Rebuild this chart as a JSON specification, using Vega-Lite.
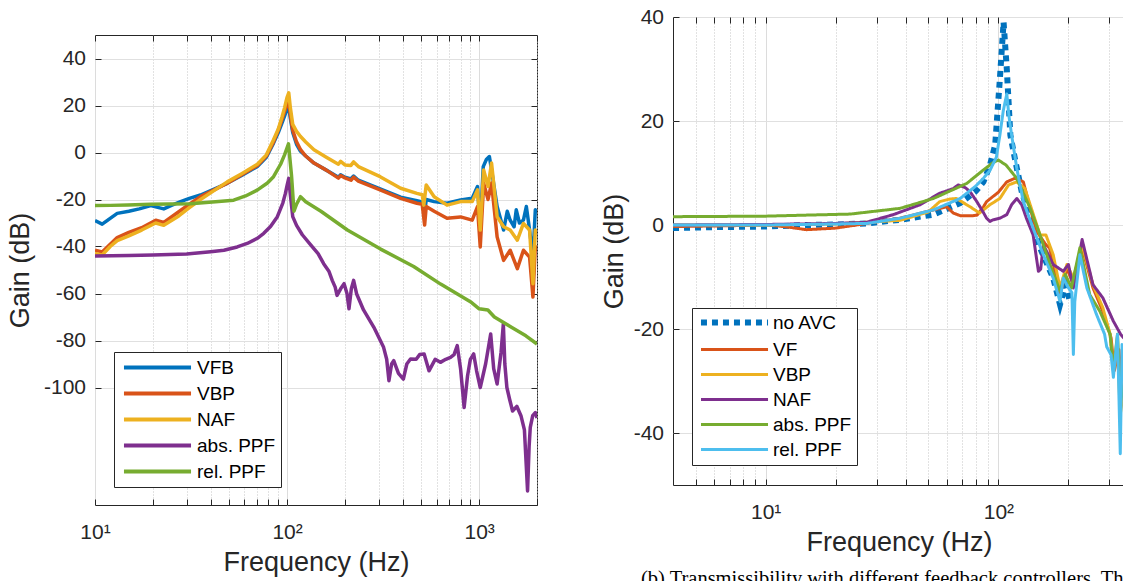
{
  "$schema": "https://vega.github.io/schema/vega-lite/v6.json",
  "padding": {"left": 5, "top": 5, "right": 5, "bottom": 5},
  "background": "white",
  "spacing": 61,
  "resolve": {
    "scale": {"color": "independent", "strokeDash": "independent"},
    "legend": {"color": "independent", "strokeDash": "independent"}
  },
  "config": {
    "font": "Liberation Sans",
    "view": {"stroke": "#262626", "strokeWidth": 1},
    "axis": {
      "domain": false,
      "labelFontSize": 21,
      "titleFontSize": 27,
      "titleFontWeight": "normal",
      "labelColor": "#262626",
      "titleColor": "#262626",
      "tickColor": "#262626",
      "tickSize": -6,
      "gridColor": "#e0e0e0",
      "labelFont": "Liberation Sans",
      "titleFont": "Liberation Sans",
      "labelOverlap": false,
      "labelFlush": false
    },
    "axisX": {"labelPadding": 22, "titlePadding": 7},
    "axisY": {"labelPadding": 15.5, "titlePadding": 9},
    "legend": {
      "labelFont": "Liberation Sans",
      "labelFontSize": 19,
      "labelColor": "#000000",
      "symbolType": "M-4,0H4",
      "symbolSize": 281,
      "symbolOffset": 28,
      "labelOffset": 29,
      "padding": 5,
      "rowPadding": 5,
      "strokeColor": "#262626",
      "fillColor": "#ffffff"
    }
  },
  "datasets": {
    "L": [
      {"s":"VFB","f":10,"g":-29},{"s":"VFB","f":10.9,"g":-30.5},{"s":"VFB","f":12,"g":-28},{"s":"VFB","f":13.05,"g":-25.9},{"s":"VFB","f":15,"g":-25},{"s":"VFB","f":17,"g":-24},{"s":"VFB","f":19.5,"g":-22.6},{"s":"VFB","f":22.8,"g":-24},{"s":"VFB","f":25,"g":-22.5},{"s":"VFB","f":27.9,"g":-20.9},{"s":"VFB","f":31,"g":-19.5},{"s":"VFB","f":35.4,"g":-18.1},{"s":"VFB","f":42,"g":-15.5},{"s":"VFB","f":48.8,"g":-13.1},{"s":"VFB","f":58,"g":-9.8},{"s":"VFB","f":70,"g":-6},{"s":"VFB","f":78,"g":-2},{"s":"VFB","f":85,"g":4},{"s":"VFB","f":90,"g":8.5},{"s":"VFB","f":94,"g":12.5},{"s":"VFB","f":97,"g":15.5},{"s":"VFB","f":100,"g":18.5},{"s":"VFB","f":102,"g":19.5},{"s":"VFB","f":104,"g":14.5},{"s":"VFB","f":107,"g":8.5},{"s":"VFB","f":112,"g":3.5},{"s":"VFB","f":117.5,"g":0.5},{"s":"VFB","f":125,"g":-1.5},{"s":"VFB","f":138,"g":-4.5},{"s":"VFB","f":160,"g":-7.5},{"s":"VFB","f":185,"g":-10.5},{"s":"VFB","f":190,"g":-9.5},{"s":"VFB","f":200,"g":-10.5},{"s":"VFB","f":215,"g":-11.2},{"s":"VFB","f":222,"g":-10},{"s":"VFB","f":235,"g":-11.8},{"s":"VFB","f":305,"g":-15.5},{"s":"VFB","f":390,"g":-19},{"s":"VFB","f":474,"g":-20.5},{"s":"VFB","f":505,"g":-21},{"s":"VFB","f":520,"g":-25.9},{"s":"VFB","f":530,"g":-20},{"s":"VFB","f":583,"g":-20.9},{"s":"VFB","f":680,"g":-21.6},{"s":"VFB","f":800,"g":-20.2},{"s":"VFB","f":920,"g":-19.5},{"s":"VFB","f":980,"g":-14.5},{"s":"VFB","f":1013,"g":-32},{"s":"VFB","f":1050,"g":-6},{"s":"VFB","f":1090,"g":-3},{"s":"VFB","f":1130,"g":-1.7},{"s":"VFB","f":1160,"g":-7.4},{"s":"VFB","f":1240,"g":-23},{"s":"VFB","f":1340,"g":-33},{"s":"VFB","f":1400,"g":-25},{"s":"VFB","f":1450,"g":-28.8},{"s":"VFB","f":1520,"g":-31.6},{"s":"VFB","f":1560,"g":-24.4},{"s":"VFB","f":1620,"g":-30},{"s":"VFB","f":1700,"g":-28.8},{"s":"VFB","f":1760,"g":-23},{"s":"VFB","f":1830,"g":-33},{"s":"VFB","f":1905,"g":-44.5},{"s":"VFB","f":1960,"g":-24.4},{"s":"VFB","f":2000,"g":-26},
      {"s":"VBP","f":10,"g":-41.6},{"s":"VBP","f":10.9,"g":-42.3},{"s":"VBP","f":12,"g":-39},{"s":"VBP","f":13.05,"g":-36.2},{"s":"VBP","f":15,"g":-34},{"s":"VBP","f":17.5,"g":-32},{"s":"VBP","f":20.7,"g":-28.8},{"s":"VBP","f":22.8,"g":-29.8},{"s":"VBP","f":27.3,"g":-25.2},{"s":"VBP","f":31,"g":-22},{"s":"VBP","f":35.4,"g":-18.8},{"s":"VBP","f":42,"g":-15.8},{"s":"VBP","f":48.8,"g":-13.1},{"s":"VBP","f":58,"g":-9.5},{"s":"VBP","f":70,"g":-5.5},{"s":"VBP","f":78,"g":-1.5},{"s":"VBP","f":85,"g":4.5},{"s":"VBP","f":90,"g":9.5},{"s":"VBP","f":94,"g":14},{"s":"VBP","f":97,"g":17.5},{"s":"VBP","f":100,"g":20.5},{"s":"VBP","f":102,"g":21.8},{"s":"VBP","f":104,"g":16},{"s":"VBP","f":107,"g":9.5},{"s":"VBP","f":112,"g":4.5},{"s":"VBP","f":117.5,"g":1.2},{"s":"VBP","f":125,"g":-1.5},{"s":"VBP","f":138,"g":-4.5},{"s":"VBP","f":160,"g":-7.5},{"s":"VBP","f":185,"g":-10.9},{"s":"VBP","f":190,"g":-9.8},{"s":"VBP","f":200,"g":-10.8},{"s":"VBP","f":215,"g":-11.8},{"s":"VBP","f":222,"g":-10.5},{"s":"VBP","f":235,"g":-12.2},{"s":"VBP","f":305,"g":-15.9},{"s":"VBP","f":390,"g":-19.5},{"s":"VBP","f":474,"g":-21.6},{"s":"VBP","f":505,"g":-22},{"s":"VBP","f":520,"g":-30.9},{"s":"VBP","f":530,"g":-23},{"s":"VBP","f":583,"g":-25},{"s":"VBP","f":680,"g":-28},{"s":"VBP","f":800,"g":-27.4},{"s":"VBP","f":920,"g":-28.8},{"s":"VBP","f":980,"g":-23},{"s":"VBP","f":1013,"g":-40.2},{"s":"VBP","f":1055,"g":-13.1},{"s":"VBP","f":1112,"g":-20},{"s":"VBP","f":1160,"g":-13},{"s":"VBP","f":1240,"g":-35.9},{"s":"VBP","f":1340,"g":-45.9},{"s":"VBP","f":1450,"g":-41.6},{"s":"VBP","f":1580,"g":-49.4},{"s":"VBP","f":1700,"g":-41.6},{"s":"VBP","f":1830,"g":-44.5},{"s":"VBP","f":1905,"g":-61.5},{"s":"VBP","f":1960,"g":-40},{"s":"VBP","f":2000,"g":-42},
      {"s":"NAF","f":10,"g":-43},{"s":"NAF","f":10.9,"g":-43.6},{"s":"NAF","f":12,"g":-40},{"s":"NAF","f":13.05,"g":-37.5},{"s":"NAF","f":15,"g":-35.5},{"s":"NAF","f":17.5,"g":-33},{"s":"NAF","f":20.7,"g":-30},{"s":"NAF","f":22.8,"g":-31},{"s":"NAF","f":27.3,"g":-27},{"s":"NAF","f":31,"g":-23.5},{"s":"NAF","f":35.4,"g":-20},{"s":"NAF","f":42,"g":-16},{"s":"NAF","f":48.8,"g":-12.5},{"s":"NAF","f":58,"g":-9},{"s":"NAF","f":70,"g":-5},{"s":"NAF","f":78,"g":-1},{"s":"NAF","f":85,"g":5.4},{"s":"NAF","f":90,"g":10},{"s":"NAF","f":94,"g":15},{"s":"NAF","f":97,"g":19},{"s":"NAF","f":100,"g":23.5},{"s":"NAF","f":102,"g":25.4},{"s":"NAF","f":104,"g":19},{"s":"NAF","f":107,"g":12},{"s":"NAF","f":112,"g":9},{"s":"NAF","f":117.5,"g":6.8},{"s":"NAF","f":125,"g":4.5},{"s":"NAF","f":138,"g":1.2},{"s":"NAF","f":160,"g":-2},{"s":"NAF","f":185,"g":-5},{"s":"NAF","f":190,"g":-3.8},{"s":"NAF","f":200,"g":-5.3},{"s":"NAF","f":215,"g":-5.5},{"s":"NAF","f":222,"g":-4},{"s":"NAF","f":235,"g":-6},{"s":"NAF","f":305,"g":-10.3},{"s":"NAF","f":390,"g":-15.2},{"s":"NAF","f":474,"g":-17.4},{"s":"NAF","f":505,"g":-18},{"s":"NAF","f":515,"g":-22.4},{"s":"NAF","f":530,"g":-13.8},{"s":"NAF","f":583,"g":-18.8},{"s":"NAF","f":680,"g":-22.4},{"s":"NAF","f":800,"g":-20.9},{"s":"NAF","f":920,"g":-20.9},{"s":"NAF","f":980,"g":-15.9},{"s":"NAF","f":1013,"g":-33},{"s":"NAF","f":1055,"g":-7.4},{"s":"NAF","f":1112,"g":-14.5},{"s":"NAF","f":1160,"g":-4.5},{"s":"NAF","f":1240,"g":-27.3},{"s":"NAF","f":1340,"g":-31.6},{"s":"NAF","f":1450,"g":-33},{"s":"NAF","f":1580,"g":-37.3},{"s":"NAF","f":1700,"g":-30.2},{"s":"NAF","f":1830,"g":-33},{"s":"NAF","f":1905,"g":-55.8},{"s":"NAF","f":1960,"g":-33},{"s":"NAF","f":2000,"g":-35},
      {"s":"abs. PPF","f":10,"g":-44},{"s":"abs. PPF","f":15,"g":-43.8},{"s":"abs. PPF","f":20,"g":-43.6},{"s":"abs. PPF","f":30,"g":-43.2},{"s":"abs. PPF","f":40,"g":-42.2},{"s":"abs. PPF","f":46.9,"g":-41.6},{"s":"abs. PPF","f":55,"g":-40.2},{"s":"abs. PPF","f":62,"g":-38.7},{"s":"abs. PPF","f":70,"g":-36.5},{"s":"abs. PPF","f":75.6,"g":-34.4},{"s":"abs. PPF","f":82,"g":-31.5},{"s":"abs. PPF","f":89,"g":-27.3},{"s":"abs. PPF","f":95,"g":-21.5},{"s":"abs. PPF","f":98,"g":-17.4},{"s":"abs. PPF","f":100,"g":-14},{"s":"abs. PPF","f":102,"g":-11},{"s":"abs. PPF","f":104,"g":-18},{"s":"abs. PPF","f":107,"g":-27.3},{"s":"abs. PPF","f":112,"g":-31},{"s":"abs. PPF","f":120,"g":-35},{"s":"abs. PPF","f":133,"g":-39.4},{"s":"abs. PPF","f":145,"g":-43},{"s":"abs. PPF","f":155,"g":-47.3},{"s":"abs. PPF","f":165,"g":-50.5},{"s":"abs. PPF","f":172,"g":-54.5},{"s":"abs. PPF","f":178,"g":-57.3},{"s":"abs. PPF","f":182,"g":-60.8},{"s":"abs. PPF","f":190,"g":-58},{"s":"abs. PPF","f":198,"g":-55.8},{"s":"abs. PPF","f":205,"g":-60},{"s":"abs. PPF","f":210,"g":-66.5},{"s":"abs. PPF","f":216,"g":-58},{"s":"abs. PPF","f":222,"g":-54.4},{"s":"abs. PPF","f":230,"g":-60.1},{"s":"abs. PPF","f":250,"g":-67},{"s":"abs. PPF","f":283,"g":-74.4},{"s":"abs. PPF","f":318,"g":-82.9},{"s":"abs. PPF","f":330,"g":-88},{"s":"abs. PPF","f":339,"g":-97.1},{"s":"abs. PPF","f":350,"g":-90},{"s":"abs. PPF","f":359,"g":-88.6},{"s":"abs. PPF","f":380,"g":-94},{"s":"abs. PPF","f":403,"g":-96.4},{"s":"abs. PPF","f":420,"g":-90},{"s":"abs. PPF","f":439,"g":-87.9},{"s":"abs. PPF","f":470,"g":-88},{"s":"abs. PPF","f":490,"g":-86},{"s":"abs. PPF","f":517,"g":-85.7},{"s":"abs. PPF","f":548,"g":-92.9},{"s":"abs. PPF","f":590,"g":-88},{"s":"abs. PPF","f":628,"g":-89.3},{"s":"abs. PPF","f":670,"g":-88},{"s":"abs. PPF","f":709,"g":-87.2},{"s":"abs. PPF","f":740,"g":-86},{"s":"abs. PPF","f":769,"g":-82.2},{"s":"abs. PPF","f":800,"g":-92},{"s":"abs. PPF","f":835,"g":-108.5},{"s":"abs. PPF","f":870,"g":-95},{"s":"abs. PPF","f":900,"g":-88},{"s":"abs. PPF","f":936,"g":-85.7},{"s":"abs. PPF","f":970,"g":-93},{"s":"abs. PPF","f":1013,"g":-100},{"s":"abs. PPF","f":1080,"g":-90},{"s":"abs. PPF","f":1148,"g":-77.2},{"s":"abs. PPF","f":1190,"g":-92},{"s":"abs. PPF","f":1240,"g":-98.5},{"s":"abs. PPF","f":1300,"g":-85},{"s":"abs. PPF","f":1336,"g":-72.9},{"s":"abs. PPF","f":1360,"g":-90},{"s":"abs. PPF","f":1394,"g":-100},{"s":"abs. PPF","f":1440,"g":-105},{"s":"abs. PPF","f":1492,"g":-110},{"s":"abs. PPF","f":1570,"g":-108},{"s":"abs. PPF","f":1650,"g":-112},{"s":"abs. PPF","f":1720,"g":-118},{"s":"abs. PPF","f":1786,"g":-144},{"s":"abs. PPF","f":1820,"g":-125},{"s":"abs. PPF","f":1845,"g":-117},{"s":"abs. PPF","f":1900,"g":-112},{"s":"abs. PPF","f":1960,"g":-110.7},{"s":"abs. PPF","f":2000,"g":-113},
      {"s":"rel. PPF","f":10,"g":-22.6},{"s":"rel. PPF","f":12,"g":-22.5},{"s":"rel. PPF","f":14.8,"g":-22.3},{"s":"rel. PPF","f":19.5,"g":-22.0},{"s":"rel. PPF","f":31.4,"g":-21.8},{"s":"rel. PPF","f":42.4,"g":-21.0},{"s":"rel. PPF","f":52.7,"g":-20.3},{"s":"rel. PPF","f":60.8,"g":-18.5},{"s":"rel. PPF","f":70.2,"g":-15.9},{"s":"rel. PPF","f":79,"g":-13},{"s":"rel. PPF","f":85,"g":-10.3},{"s":"rel. PPF","f":92.5,"g":-5},{"s":"rel. PPF","f":97,"g":-1},{"s":"rel. PPF","f":101.7,"g":3.7},{"s":"rel. PPF","f":105.5,"g":-10},{"s":"rel. PPF","f":108.6,"g":-25},{"s":"rel. PPF","f":112,"g":-22},{"s":"rel. PPF","f":117.5,"g":-18.8},{"s":"rel. PPF","f":125,"g":-21},{"s":"rel. PPF","f":150,"g":-25},{"s":"rel. PPF","f":206,"g":-33},{"s":"rel. PPF","f":305,"g":-41},{"s":"rel. PPF","f":456,"g":-48.5},{"s":"rel. PPF","f":630,"g":-56},{"s":"rel. PPF","f":900,"g":-63.5},{"s":"rel. PPF","f":1000,"g":-66.5},{"s":"rel. PPF","f":1110,"g":-67},{"s":"rel. PPF","f":1200,"g":-70},{"s":"rel. PPF","f":1450,"g":-74},{"s":"rel. PPF","f":1750,"g":-78},{"s":"rel. PPF","f":2000,"g":-81.5}
    ],
    "R": [
      {"s":"no AVC","f":4,"g":-0.6},{"s":"no AVC","f":6,"g":-0.4},{"s":"no AVC","f":10,"g":-0.3},{"s":"no AVC","f":15,"g":0},{"s":"no AVC","f":20,"g":0.1},{"s":"no AVC","f":27.2,"g":0.3},{"s":"no AVC","f":37.8,"g":1},{"s":"no AVC","f":52.6,"g":2},{"s":"no AVC","f":68.5,"g":4.2},{"s":"no AVC","f":80,"g":6.5},{"s":"no AVC","f":86.3,"g":8.3},{"s":"no AVC","f":92,"g":11.5},{"s":"no AVC","f":96.9,"g":15.4},{"s":"no AVC","f":101.5,"g":28.1},{"s":"no AVC","f":105.3,"g":39},{"s":"no AVC","f":108.7,"g":30},{"s":"no AVC","f":112.6,"g":17.3},{"s":"no AVC","f":118.4,"g":12.2},{"s":"no AVC","f":126,"g":6.4},{"s":"no AVC","f":137,"g":1.3},{"s":"no AVC","f":151,"g":-4.4},{"s":"no AVC","f":172,"g":-10.2},{"s":"no AVC","f":184,"g":-15.3},{"s":"no AVC","f":194,"g":-11.5},{"s":"no AVC","f":203,"g":-14.7},
      {"s":"VF","f":4,"g":-0.3},{"s":"VF","f":8,"g":-0.1},{"s":"VF","f":10,"g":0},{"s":"VF","f":12,"g":-0.3},{"s":"VF","f":15,"g":-0.9},{"s":"VF","f":20,"g":-0.6},{"s":"VF","f":27.2,"g":0.3},{"s":"VF","f":37.8,"g":1.3},{"s":"VF","f":52.6,"g":2.9},{"s":"VF","f":60,"g":3.5},{"s":"VF","f":64,"g":2.3},{"s":"VF","f":68.5,"g":1.8},{"s":"VF","f":78,"g":1.8},{"s":"VF","f":81,"g":1.9},{"s":"VF","f":86.3,"g":3.5},{"s":"VF","f":89,"g":4.5},{"s":"VF","f":100,"g":6.3},{"s":"VF","f":108.7,"g":8.3},{"s":"VF","f":118,"g":9},{"s":"VF","f":128,"g":8.3},{"s":"VF","f":137,"g":3.2},{"s":"VF","f":146,"g":-1.2},{"s":"VF","f":160,"g":-3.8},{"s":"VF","f":166,"g":-4.4},{"s":"VF","f":184,"g":-13.4},{"s":"VF","f":197,"g":-8.3},{"s":"VF","f":210,"g":-11.5},{"s":"VF","f":229,"g":-4.4},{"s":"VF","f":255,"g":-12.1},{"s":"VF","f":281,"g":-16.6},{"s":"VF","f":305,"g":-21.7},{"s":"VF","f":315,"g":-28},{"s":"VF","f":330,"g":-24},{"s":"VF","f":340,"g":-33.8},{"s":"VF","f":350,"g":-30},
      {"s":"VBP","f":4,"g":0},{"s":"VBP","f":10,"g":0},{"s":"VBP","f":20,"g":0.2},{"s":"VBP","f":37.8,"g":0.9},{"s":"VBP","f":50,"g":2.5},{"s":"VBP","f":56,"g":4.5},{"s":"VBP","f":62,"g":5},{"s":"VBP","f":66,"g":5.1},{"s":"VBP","f":75.6,"g":3.5},{"s":"VBP","f":83,"g":2.3},{"s":"VBP","f":92,"g":3.9},{"s":"VBP","f":101.5,"g":5.1},{"s":"VBP","f":110.6,"g":7.7},{"s":"VBP","f":120,"g":8.3},{"s":"VBP","f":130,"g":7.0},{"s":"VBP","f":140,"g":2.6},{"s":"VBP","f":151,"g":-1.9},{"s":"VBP","f":160,"g":-1.9},{"s":"VBP","f":172,"g":-5.7},{"s":"VBP","f":184,"g":-12.1},{"s":"VBP","f":197,"g":-7.6},{"s":"VBP","f":210,"g":-10.2},{"s":"VBP","f":229,"g":-3.8},{"s":"VBP","f":255,"g":-11.5},{"s":"VBP","f":281,"g":-15.9},{"s":"VBP","f":302,"g":-21},{"s":"VBP","f":312,"g":-27.4},{"s":"VBP","f":325,"g":-23.4},{"s":"VBP","f":334,"g":-36.4},{"s":"VBP","f":350,"g":-30},
      {"s":"NAF","f":4,"g":0},{"s":"NAF","f":10,"g":0.1},{"s":"NAF","f":20,"g":0.3},{"s":"NAF","f":27,"g":0.5},{"s":"NAF","f":35.4,"g":2},{"s":"NAF","f":46.1,"g":3.9},{"s":"NAF","f":56,"g":6.1},{"s":"NAF","f":64,"g":7.0},{"s":"NAF","f":67.2,"g":7.7},{"s":"NAF","f":72,"g":7.2},{"s":"NAF","f":75.6,"g":6.4},{"s":"NAF","f":80.8,"g":4.5},{"s":"NAF","f":86,"g":2.5},{"s":"NAF","f":89,"g":1.3},{"s":"NAF","f":92,"g":0.7},{"s":"NAF","f":95,"g":1},{"s":"NAF","f":101.5,"g":1.3},{"s":"NAF","f":108.7,"g":2},{"s":"NAF","f":114,"g":3.9},{"s":"NAF","f":120,"g":5.1},{"s":"NAF","f":126,"g":3.9},{"s":"NAF","f":132,"g":1.3},{"s":"NAF","f":141,"g":-1.9},{"s":"NAF","f":148.6,"g":-8.9},{"s":"NAF","f":152,"g":-8.5},{"s":"NAF","f":156,"g":-3.8},{"s":"NAF","f":172,"g":-7.6},{"s":"NAF","f":190,"g":-8.9},{"s":"NAF","f":200,"g":-7.6},{"s":"NAF","f":210,"g":-12.1},{"s":"NAF","f":229,"g":-2.8},{"s":"NAF","f":255,"g":-11.5},{"s":"NAF","f":281,"g":-14},{"s":"NAF","f":312,"g":-18.5},{"s":"NAF","f":335,"g":-21},{"s":"NAF","f":350,"g":-22},
      {"s":"abs. PPF","f":4,"g":1.6},{"s":"abs. PPF","f":10,"g":1.7},{"s":"abs. PPF","f":15,"g":1.9},{"s":"abs. PPF","f":23.1,"g":2.1},{"s":"abs. PPF","f":37.8,"g":3.2},{"s":"abs. PPF","f":52.6,"g":5.1},{"s":"abs. PPF","f":73.2,"g":8.0},{"s":"abs. PPF","f":86.3,"g":10.6},{"s":"abs. PPF","f":95,"g":12},{"s":"abs. PPF","f":100,"g":12.5},{"s":"abs. PPF","f":108,"g":11.5},{"s":"abs. PPF","f":119.8,"g":9},{"s":"abs. PPF","f":137,"g":3.2},{"s":"abs. PPF","f":151,"g":-1.9},{"s":"abs. PPF","f":166.7,"g":-7.6},{"s":"abs. PPF","f":184,"g":-12.7},{"s":"abs. PPF","f":194,"g":-9.5},{"s":"abs. PPF","f":206,"g":-12.1},{"s":"abs. PPF","f":224,"g":-4.4},{"s":"abs. PPF","f":247,"g":-13.4},{"s":"abs. PPF","f":273,"g":-16.6},{"s":"abs. PPF","f":302,"g":-21},{"s":"abs. PPF","f":312,"g":-28},{"s":"abs. PPF","f":325,"g":-21},{"s":"abs. PPF","f":335,"g":-33.8},{"s":"abs. PPF","f":350,"g":-30},
      {"s":"rel. PPF","f":4,"g":0},{"s":"rel. PPF","f":10,"g":0},{"s":"rel. PPF","f":20,"g":0.2},{"s":"rel. PPF","f":27.2,"g":0.3},{"s":"rel. PPF","f":37.8,"g":1.3},{"s":"rel. PPF","f":52.6,"g":2.9},{"s":"rel. PPF","f":68.5,"g":5.1},{"s":"rel. PPF","f":80,"g":7.5},{"s":"rel. PPF","f":86.3,"g":9},{"s":"rel. PPF","f":92,"g":10.5},{"s":"rel. PPF","f":98,"g":13},{"s":"rel. PPF","f":101.5,"g":17.3},{"s":"rel. PPF","f":105,"g":22},{"s":"rel. PPF","f":108.7,"g":25.2},{"s":"rel. PPF","f":111,"g":21},{"s":"rel. PPF","f":114,"g":17.3},{"s":"rel. PPF","f":120,"g":10.9},{"s":"rel. PPF","f":128,"g":4.5},{"s":"rel. PPF","f":141,"g":-0.6},{"s":"rel. PPF","f":156,"g":-5.7},{"s":"rel. PPF","f":172,"g":-10.2},{"s":"rel. PPF","f":184,"g":-14.7},{"s":"rel. PPF","f":190,"g":-10.2},{"s":"rel. PPF","f":200,"g":-12.1},{"s":"rel. PPF","f":207,"g":-13},{"s":"rel. PPF","f":210,"g":-24.9},{"s":"rel. PPF","f":213,"g":-14.7},{"s":"rel. PPF","f":224,"g":-5.7},{"s":"rel. PPF","f":240,"g":-12.1},{"s":"rel. PPF","f":264,"g":-17.2},{"s":"rel. PPF","f":286,"g":-21},{"s":"rel. PPF","f":292,"g":-23.4},{"s":"rel. PPF","f":305,"g":-25},{"s":"rel. PPF","f":312,"g":-29.3},{"s":"rel. PPF","f":325,"g":-21},{"s":"rel. PPF","f":334,"g":-44},{"s":"rel. PPF","f":340,"g":-23},{"s":"rel. PPF","f":350,"g":-25}
    ]
  },
  "hconcat": [
    {
      "spacing": 16,
      "resolve": {"scale": {"color": "independent"}, "legend": {"color": "independent"}},
      "vconcat": [
        {
          "width": 442,
          "height": 1,
          "view": {"stroke": null},
          "data": {"values": []},
          "mark": {"type": "point"}
        },
        {
          "width": 442,
          "height": 470,
          "data": {"name": "L"},
          "resolve": {"axis": {"x": "independent", "y": "independent"}},
          "layer": [
            {
              "mark": {"type": "line", "strokeWidth": 3.5, "strokeJoin": "round", "clip": true},
              "encoding": {
                "x": {
                  "field": "f", "type": "quantitative",
                  "scale": {"type": "log", "domain": [10, 2000], "nice": false},
                  "axis": {
                    "orient": "bottom",
                    "title": "Frequency (Hz)",
                    "values": [10,20,30,40,50,60,70,80,90,100,200,300,400,500,600,700,800,900,1000,2000],
                    "labelExpr": "datum.value == 10 ? '10¹' : datum.value == 100 ? '10²' : datum.value == 1000 ? '10³' : ''",
                    "gridDash": {"condition": {"test": "datum.value == 10 || datum.value == 100 || datum.value == 1000", "value": []}, "value": [1, 2]},
                    "gridColor": {"condition": {"test": "datum.value == 10 || datum.value == 100 || datum.value == 1000", "value": "#dcdcdc"}, "value": "#c4c4c4"}
                  }
                },
                "y": {
                  "field": "g", "type": "quantitative",
                  "scale": {"domain": [-150, 50], "nice": false},
                  "axis": {"orient": "left", "title": "Gain (dB)", "values": [-100,-80,-60,-40,-20,0,20,40], "labelExpr": "'' + datum.value", "titlePadding": 9}
                },
                "color": {
                  "field": "s", "type": "nominal",
                  "scale": {"domain": ["VFB","VBP","NAF","abs. PPF","rel. PPF"], "range": ["#0072BD","#D95319","#EDB120","#7E2F8E","#77AC30"]},
                  "legend": {"title": null, "orient": "none", "legendX": 19, "legendY": 317, "symbolStrokeWidth": 4}
                }
              }
            },
            {
              "mark": {"type": "line", "opacity": 0, "strokeWidth": 0, "clip": true},
              "encoding": {
                "x": {
                  "field": "f", "type": "quantitative",
                  "axis": {"orient": "top", "title": null, "labels": false, "grid": false, "values": [10,20,30,40,50,60,70,80,90,100,200,300,400,500,600,700,800,900,1000,2000]}
                },
                "y": {
                  "field": "g", "type": "quantitative",
                  "axis": {"orient": "right", "title": null, "labels": false, "grid": false, "values": [-100,-80,-60,-40,-20,0,20,40]}
                }
              }
            }
          ]
        }
      ]
    },
    {
      "width": 452,
      "height": 468,
      "title": {"text": "(b) Transmissibility with different feedback controllers. The", "orient": "bottom", "anchor": "start", "frame": "group", "font": "Liberation Serif", "fontSize": 20.5, "fontWeight": "normal", "color": "#000000", "offset": 14, "dx": -32},
      "data": {"name": "R"},
      "resolve": {"axis": {"x": "independent"}},
      "encoding": {
        "y": {
          "field": "g", "type": "quantitative",
          "scale": {"domain": [-50, 40], "nice": false},
          "axis": {"title": "Gain (dB)", "values": [-40,-20,0,20,40], "labelExpr": "'' + datum.value", "titlePadding": 5}
        }
      },
      "layer": [
        {
          "transform": [{"filter": "datum.s === 'no AVC'"}],
          "mark": {"type": "line", "strokeWidth": 6, "clip": true},
          "encoding": {
            "x": {
              "field": "f", "type": "quantitative",
              "scale": {"type": "log", "domain": [4, 350], "nice": false},
              "axis": {
                "orient": "bottom",
                "title": "Frequency (Hz)",
                "values": [5,6,7,8,9,10,20,30,40,50,60,70,80,90,100,200,300],
                "labelExpr": "datum.value == 10 ? '10¹' : datum.value == 100 ? '10²' : ''",
                "gridDash": {"condition": {"test": "datum.value == 10 || datum.value == 100", "value": []}, "value": [1, 2]},
                "gridColor": {"condition": {"test": "datum.value == 10 || datum.value == 100", "value": "#dcdcdc"}, "value": "#c4c4c4"}
              }
            },
            "color": {
              "field": "s", "type": "nominal",
              "scale": {"domain": ["no AVC","VF","VBP","NAF","abs. PPF","rel. PPF"], "range": ["#0072BD","#D95319","#EDB120","#7E2F8E","#77AC30","#4DBEEE"]},
              "legend": {"title": null, "orient": "none", "legendX": 19, "legendY": 291, "symbolStrokeWidth": {"expr": "datum.value === 'no AVC' ? 6 : 3"}}
            },
            "strokeDash": {
              "field": "s", "type": "nominal",
              "scale": {"domain": ["no AVC","VF","VBP","NAF","abs. PPF","rel. PPF"], "range": [[6,5],[1,0],[1,0],[1,0],[1,0],[1,0]]},
              "legend": {"title": null, "orient": "none", "legendX": 19, "legendY": 291, "symbolStrokeWidth": {"expr": "datum.value === 'no AVC' ? 6 : 3"}}
            }
          }
        },
        {
          "transform": [{"filter": "datum.s !== 'no AVC'"}],
          "mark": {"type": "line", "strokeWidth": 3, "strokeJoin": "round", "clip": true},
          "encoding": {
            "x": {"field": "f", "type": "quantitative", "axis": null},
            "color": {
              "field": "s", "type": "nominal",
              "scale": {"domain": ["no AVC","VF","VBP","NAF","abs. PPF","rel. PPF"], "range": ["#0072BD","#D95319","#EDB120","#7E2F8E","#77AC30","#4DBEEE"]},
              "legend": {"title": null, "orient": "none", "legendX": 19, "legendY": 291, "symbolStrokeWidth": {"expr": "datum.value === 'no AVC' ? 6 : 3"}}
            },
            "strokeDash": {
              "field": "s", "type": "nominal",
              "scale": {"domain": ["no AVC","VF","VBP","NAF","abs. PPF","rel. PPF"], "range": [[6,5],[1,0],[1,0],[1,0],[1,0],[1,0]]},
              "legend": {"title": null, "orient": "none", "legendX": 19, "legendY": 291, "symbolStrokeWidth": {"expr": "datum.value === 'no AVC' ? 6 : 3"}}
            }
          }
        },
        {
          "mark": {"type": "line", "opacity": 0, "strokeWidth": 0, "clip": true},
          "encoding": {
            "x": {
              "field": "f", "type": "quantitative",
              "axis": {"orient": "top", "title": null, "labels": false, "grid": false, "values": [5,6,7,8,9,10,20,30,40,50,60,70,80,90,100,200,300]}
            }
          }
        }
      ]
    }
  ]
}
